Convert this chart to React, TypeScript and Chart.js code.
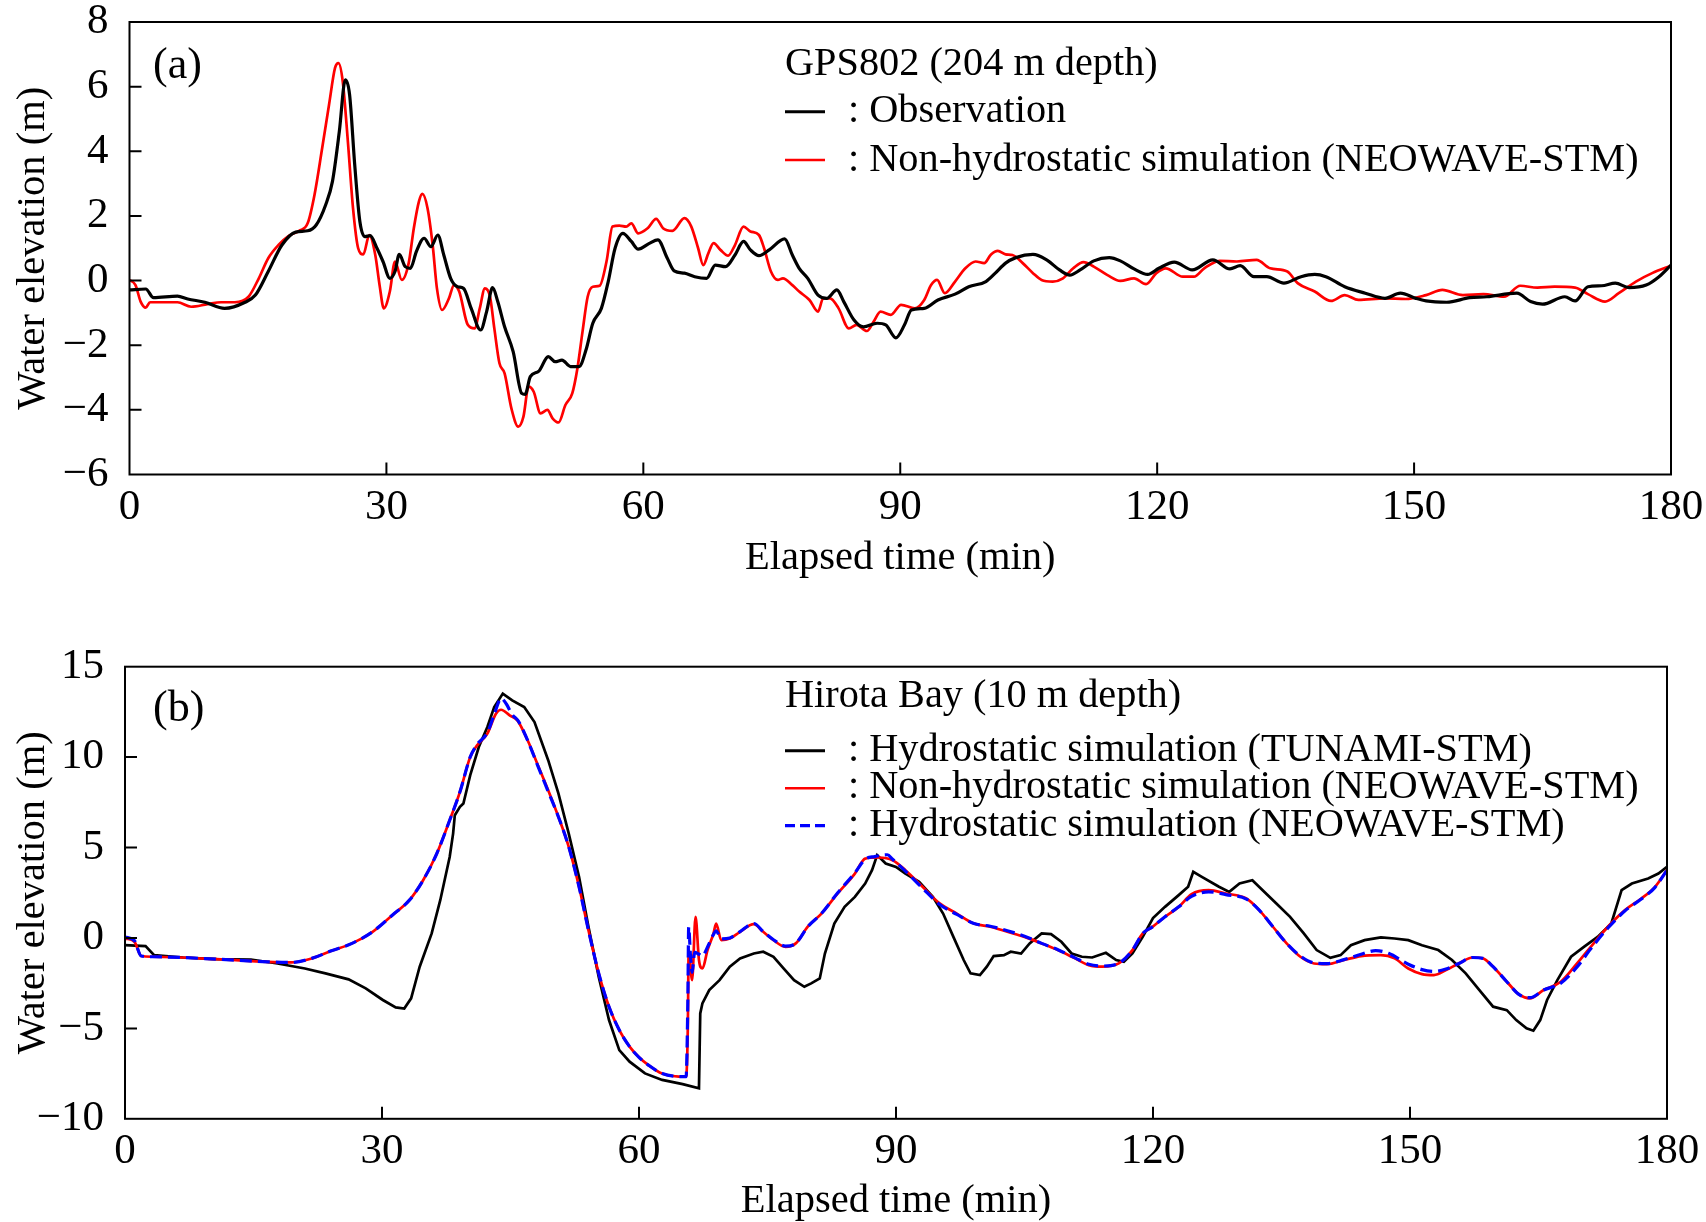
import React, { useEffect, useRef } from 'react';
import { Chart, registerables } from 'chart.js';

Chart.register(...registerables);

const FONT = "'Liberation Serif', 'Times New Roman', Times, serif";
const PAGE_W = 1706;

// ---------------- Panel (a): GPS802 ----------------
const aObservation: [number, number][] = [
  [0, -0.29], [1.9, -0.26], [2.8, -0.53], [5.6, -0.48], [6.8, -0.57], [8.8, -0.67], [11.1, -0.86], [13.5, -0.67],
  [14.7, -0.45], [16.2, 0.28], [17.8, 1.1], [19.4, 1.5], [20.8, 1.54], [21.8, 1.72], [22.9, 2.34], [23.7, 3.07],
  [24.5, 4.61], [25.2, 6.21], [25.7, 5.75], [26.3, 3.58], [26.9, 1.83], [27.5, 1.36], [28.1, 1.39], [28.9, 1.0],
  [29.6, 0.59], [30.4, 0.07], [31.0, 0.28], [31.5, 0.81], [32.2, 0.43], [32.8, 0.38], [33.5, 0.9], [34.4, 1.31],
  [35.2, 1.05], [36.0, 1.41], [36.7, 0.79], [37.5, 0.07], [38.3, -0.19], [39.0, -0.24], [39.9, -0.86], [41.0, -1.53],
  [41.7, -0.96], [42.4, -0.22], [43.0, -0.65], [43.8, -1.43], [44.8, -2.2], [45.8, -3.49], [46.2, -3.52], [46.8, -2.97],
  [47.8, -2.8], [48.9, -2.35], [49.7, -2.51], [50.5, -2.46], [51.5, -2.66], [52.5, -2.66], [53.3, -2.15], [54.1, -1.32],
  [55.1, -0.86], [55.9, -0.03], [56.7, 1.0], [57.6, 1.46], [58.6, 1.21], [59.4, 0.97], [60.7, 1.15], [61.7, 1.26],
  [62.8, 0.69], [63.6, 0.3], [64.8, 0.23], [66.0, 0.12], [67.4, 0.07], [68.4, 0.48], [69.6, 0.43], [70.7, 0.79],
  [71.7, 1.21], [72.5, 0.95], [73.5, 0.77], [74.7, 0.95], [76.5, 1.29], [77.4, 0.79], [78.2, 0.38], [79.2, 0.07],
  [80.4, -0.45], [81.4, -0.55], [82.6, -0.29], [83.4, -0.65], [84.6, -1.22], [85.7, -1.43], [87.3, -1.32], [88.3, -1.37],
  [89.5, -1.77], [90.5, -1.37], [91.3, -0.91], [92.8, -0.86], [94.4, -0.6], [96.4, -0.42], [98.0, -0.19], [100.0, -0.03],
  [101.1, 0.23], [102.3, 0.54], [103.5, 0.71], [105.5, 0.81], [107.1, 0.64], [108.6, 0.33], [109.8, 0.17], [111.0, 0.33],
  [112.6, 0.61], [114.4, 0.71], [115.7, 0.61], [117.3, 0.36], [118.9, 0.19], [120.2, 0.38], [122.0, 0.57], [124.1, 0.33],
  [126.5, 0.64], [128.5, 0.36], [129.7, 0.46], [131.3, 0.12], [132.8, 0.12], [134.8, -0.08], [136.8, 0.12], [138.4, 0.19],
  [139.7, 0.12], [141.9, -0.19], [144.3, -0.39], [146.6, -0.55], [148.4, -0.39], [150.2, -0.55], [151.4, -0.63], [153.8, -0.67],
  [156.5, -0.53], [158.5, -0.5], [162.0, -0.39], [163.6, -0.65], [165.0, -0.73], [167.6, -0.5], [168.8, -0.63], [170.3, -0.19],
  [171.9, -0.16], [173.5, -0.08], [175.1, -0.22], [177.1, -0.14], [178.6, 0.12], [180, 0.48],
];

const aNonHydroNeowave: [number, number][] = [
  [0, 0.02], [0.7, -0.14], [1.3, -0.65], [1.9, -0.84], [2.4, -0.67], [5.6, -0.67], [7.2, -0.81], [9.1, -0.73],
  [10.7, -0.67], [12.3, -0.67], [13.9, -0.5], [15.1, 0.07], [16.2, 0.69], [17.4, 1.1], [18.6, 1.38], [19.8, 1.54],
  [20.8, 1.77], [21.6, 2.65], [22.5, 4.1], [23.3, 5.44], [24.0, 6.58], [24.4, 6.73], [24.9, 6.16], [25.5, 4.3],
  [26.1, 2.24], [26.7, 1.0], [27.3, 0.81], [28.0, 1.41], [28.7, 0.79], [29.2, -0.14], [29.7, -0.86], [30.4, -0.34],
  [31.0, 0.59], [31.8, 0.02], [32.6, 0.54], [33.2, 1.62], [33.8, 2.45], [34.2, 2.68], [34.8, 2.24], [35.4, 1.1],
  [35.9, -0.24], [36.5, -0.91], [37.3, -0.55], [37.9, -0.14], [38.5, -0.34], [39.5, -1.37], [40.3, -1.48], [40.9, -0.86],
  [41.5, -0.24], [42.1, -0.5], [42.6, -1.48], [43.2, -2.56], [43.8, -2.87], [44.6, -3.96], [45.4, -4.52], [46.0, -4.21],
  [46.6, -3.28], [47.2, -3.44], [48.0, -4.11], [48.8, -4.0], [49.4, -4.26], [50.1, -4.39], [50.9, -3.85], [51.7, -3.49],
  [52.3, -2.72], [52.9, -1.58], [53.5, -0.5], [54.1, -0.19], [54.9, -0.16], [55.7, 0.59], [56.4, 1.67], [57.2, 1.7],
  [58.0, 1.67], [58.6, 1.77], [59.4, 1.46], [60.5, 1.62], [61.5, 1.91], [62.3, 1.62], [63.4, 1.54], [64.8, 1.93],
  [65.6, 1.67], [66.4, 1.0], [67.0, 0.48], [67.6, 0.85], [68.2, 1.16], [69.0, 0.95], [69.9, 0.77], [70.7, 1.1],
  [71.7, 1.67], [72.5, 1.52], [73.5, 1.41], [74.1, 1.0], [74.9, 0.28], [75.7, 0.02], [76.3, 0.07], [77.4, -0.14],
  [78.2, -0.34], [79.4, -0.6], [80.4, -0.96], [81.0, -0.55], [81.8, -0.55], [82.8, -0.86], [84.0, -1.48], [84.9, -1.37],
  [86.1, -1.56], [86.9, -1.27], [87.7, -0.96], [88.9, -1.06], [90.1, -0.75], [91.7, -0.86], [92.8, -0.6], [93.6, -0.14],
  [94.3, 0.02], [95.2, -0.39], [96.4, -0.03], [97.6, 0.38], [98.8, 0.59], [99.8, 0.54], [100.6, 0.81], [101.4, 0.92],
  [102.3, 0.81], [103.1, 0.79], [104.3, 0.54], [105.5, 0.23], [106.5, 0.02], [107.8, -0.03], [109.0, 0.07], [110.2, 0.38],
  [111.4, 0.57], [112.6, 0.43], [114.2, 0.17], [115.7, -0.01], [117.3, 0.07], [118.7, -0.11], [119.9, 0.23], [121.0, 0.38],
  [123.0, 0.12], [124.3, 0.12], [125.5, 0.38], [127.3, 0.61], [129.3, 0.59], [131.6, 0.64], [133.2, 0.38], [135.2, 0.28],
  [136.4, -0.08], [138.4, -0.34], [140.3, -0.63], [141.9, -0.45], [143.5, -0.6], [146.6, -0.55], [149.0, -0.57], [151.4, -0.45],
  [153.3, -0.29], [155.7, -0.45], [158.1, -0.42], [160.5, -0.5], [162.4, -0.16], [164.4, -0.22], [166.4, -0.19], [168.8, -0.22],
  [170.3, -0.42], [172.3, -0.65], [173.9, -0.39], [175.9, -0.03], [177.8, 0.23], [180, 0.46],
];

// ---------------- Panel (b): Hirota Bay ----------------
const bHydroTunami: [number, number][] = [
  [0, -0.4], [2.4, -0.45], [3.4, -0.95], [6.8, -1.08], [10.7, -1.17], [14.7, -1.19], [17.8, -1.41], [21.0, -1.69],
  [23.4, -1.96], [26.1, -2.29], [28.1, -2.79], [30.1, -3.43], [31.6, -3.84], [32.6, -3.9], [33.4, -3.34], [34.4, -1.59],
  [35.8, 0.25], [36.8, 2.09], [37.9, 4.48], [38.3, 5.77], [38.5, 6.79], [39.1, 7.25], [39.5, 7.43], [40.3, 9.0],
  [41.3, 10.56], [42.3, 11.67], [43.1, 12.77], [44.1, 13.51], [45.2, 13.14], [46.6, 12.77], [47.8, 11.94], [49.4, 9.83],
  [50.6, 7.98], [51.8, 5.77], [53.0, 3.38], [54.1, 0.62], [55.3, -2.15], [56.5, -4.54], [57.7, -6.2], [58.9, -6.84],
  [60.7, -7.49], [62.7, -7.85], [65.1, -8.08], [67.0, -8.31], [67.15, -4.17], [67.4, -3.62], [68.2, -2.88], [69.4, -2.33],
  [70.6, -1.59], [71.8, -1.13], [73.4, -0.86], [74.5, -0.76], [75.7, -1.04], [76.9, -1.69], [78.1, -2.33], [79.3, -2.7],
  [80.1, -2.51], [81.1, -2.24], [81.7, -0.86], [82.8, 0.8], [84.0, 1.72], [85.2, 2.27], [86.4, 3.01], [87.2, 3.75],
  [87.8, 4.58], [88.8, 4.12], [90.0, 3.93], [91.1, 3.56], [92.7, 3.1], [94.3, 2.27], [95.5, 1.35], [96.7, 0.06],
  [97.9, -1.22], [98.7, -1.96], [99.8, -2.05], [100.6, -1.59], [101.4, -1.0], [102.6, -0.95], [103.4, -0.76], [104.6, -0.86],
  [105.6, -0.3], [107.0, 0.25], [108.1, 0.21], [109.3, -0.21], [110.5, -0.86], [111.7, -1.04], [112.9, -1.08], [114.5, -0.82],
  [115.7, -1.22], [116.6, -1.32], [117.6, -0.86], [118.8, 0.06], [120.0, 1.1], [121.4, 1.72], [123.0, 2.37], [124.1, 2.83],
  [124.7, 3.66], [125.7, 3.38], [127.7, 2.83], [128.9, 2.55], [130.1, 3.01], [131.6, 3.19], [132.8, 2.64], [134.4, 1.91],
  [136.0, 1.17], [137.6, 0.25], [139.1, -0.67], [140.7, -1.1], [141.9, -0.95], [143.1, -0.4], [144.7, -0.12], [146.6, 0.03],
  [148.2, -0.03], [149.8, -0.12], [151.4, -0.4], [153.3, -0.67], [154.9, -1.22], [156.5, -1.96], [158.1, -2.88], [159.7, -3.8],
  [161.3, -3.99], [162.4, -4.54], [163.6, -5.0], [164.4, -5.13], [165.2, -4.54], [166.0, -3.43], [167.2, -2.33], [168.8, -1.04],
  [170.3, -0.49], [171.9, 0.06], [173.5, 0.8], [174.7, 2.64], [175.9, 3.01], [177.8, 3.29], [179.0, 3.56], [180, 3.93],
];

const bNonHydroNeowave: [number, number][] = [
  [0, -0.03], [1.1, -0.21], [1.9, -1.0], [3.2, -1.04], [10.7, -1.17], [16.6, -1.32], [19.4, -1.35], [21.8, -1.13],
  [24.1, -0.71], [26.5, -0.3], [28.9, 0.34], [31.2, 1.26], [33.2, 2.09], [34.8, 3.19], [36.4, 4.67], [37.9, 6.51],
  [39.1, 8.08], [40.3, 10.01], [41.1, 10.65], [42.3, 11.3], [43.3, 12.4], [43.9, 12.62], [44.9, 12.31], [45.8, 12.03],
  [47.0, 10.93], [48.2, 9.55], [49.4, 8.17], [50.6, 6.69], [51.8, 5.04], [53.0, 2.83], [54.1, 0.43], [55.3, -1.96],
  [56.5, -3.8], [57.7, -5.09], [58.9, -6.01], [60.0, -6.6], [61.1, -7.03], [62.7, -7.49], [65.5, -7.67], [65.7, -4.9],
  [65.8, -0.67], [66.2, -2.33], [66.6, 1.17], [67.0, -1.22], [67.4, -1.69], [68.0, -0.67], [68.7, 0.25], [69.0, 0.8],
  [69.6, -0.12], [70.6, -0.03], [71.8, 0.34], [73.4, 0.76], [74.5, 0.34], [75.7, -0.12], [77.1, -0.49], [78.3, -0.3],
  [79.7, 0.62], [81.3, 1.35], [83.2, 2.46], [85.2, 3.56], [86.4, 4.39], [88.0, 4.45], [89.6, 4.3], [91.1, 3.75],
  [93.1, 2.83], [95.1, 1.91], [97.1, 1.35], [99.1, 0.8], [101.0, 0.62], [103.0, 0.34], [105.0, 0.06], [107.0, -0.3],
  [108.9, -0.67], [110.9, -1.13], [112.5, -1.5], [114.1, -1.59], [116.0, -1.41], [117.6, -0.67], [118.8, 0.25], [119.9, 0.6],
  [121.4, 1.17], [123.0, 1.72], [124.5, 2.42], [126.5, 2.64], [128.5, 2.46], [130.9, 2.18], [132.4, 1.54], [134.0, 0.62],
  [135.6, -0.3], [137.2, -1.04], [138.8, -1.41], [140.3, -1.45], [142.3, -1.22], [144.3, -1.0], [146.6, -0.95], [148.2, -1.13],
  [149.8, -1.69], [151.4, -2.0], [152.8, -2.05], [154.2, -1.78], [155.7, -1.41], [157.3, -1.08], [158.5, -1.13], [159.7, -1.59],
  [161.3, -2.42], [162.8, -3.15], [164.0, -3.34], [165.6, -2.88], [167.6, -2.42], [169.5, -1.41], [171.1, -0.49], [173.1, 0.62],
  [175.1, 1.54], [177.0, 2.18], [178.6, 2.83], [180, 3.75],
];

const bHydroNeowave: [number, number][] = [
  [0, 0.05], [1.1, -0.15], [1.9, -1.0], [3.2, -1.04], [10.7, -1.17], [16.6, -1.32], [19.4, -1.35], [21.8, -1.13],
  [24.1, -0.71], [26.5, -0.3], [28.9, 0.34], [31.2, 1.26], [33.2, 2.09], [34.8, 3.19], [36.4, 4.67], [37.9, 6.51],
  [39.1, 8.08], [40.3, 10.01], [41.1, 10.7], [42.3, 11.35], [43.2, 12.5], [43.9, 13.25], [44.5, 12.95], [45.2, 12.35],
  [45.9, 12.0], [47.0, 10.93], [48.2, 9.5], [49.4, 8.1], [50.6, 6.69], [51.8, 5.04], [53.0, 2.83], [54.1, 0.43],
  [55.3, -1.96], [56.5, -3.8], [57.7, -5.09], [58.9, -6.01], [60.0, -6.6], [61.1, -7.03], [62.7, -7.49], [65.5, -7.67],
  [65.7, -3.5], [65.8, 0.6], [66.0, -0.9], [66.2, -1.9], [66.5, -0.8], [67.0, -0.9], [67.4, -1.0], [68.0, -0.5],
  [68.7, 0.2], [69.0, 0.4], [69.6, -0.05], [70.6, 0.0], [71.8, 0.35], [73.4, 0.8], [74.5, 0.35], [75.7, -0.1],
  [77.1, -0.45], [78.3, -0.3], [79.7, 0.62], [81.3, 1.35], [83.2, 2.5], [85.2, 3.6], [86.4, 4.35], [87.5, 4.5],
  [89.0, 4.6], [89.6, 4.35], [91.1, 3.7], [93.1, 2.75], [95.1, 1.85], [97.1, 1.3], [99.1, 0.8], [101.0, 0.65],
  [103.0, 0.4], [105.0, 0.1], [107.0, -0.3], [108.9, -0.65], [110.9, -1.1], [112.5, -1.45], [114.1, -1.55], [116.0, -1.4],
  [117.6, -0.67], [118.8, 0.25], [119.9, 0.6], [121.4, 1.17], [123.0, 1.72], [124.5, 2.3], [126.5, 2.55], [128.5, 2.4],
  [130.9, 2.15], [132.4, 1.54], [134.0, 0.62], [135.6, -0.3], [137.2, -1.0], [138.8, -1.38], [140.3, -1.42], [142.3, -1.2],
  [144.3, -0.9], [146.0, -0.7], [147.5, -0.85], [149.8, -1.45], [151.4, -1.75], [152.8, -1.85], [154.2, -1.72], [155.7, -1.41],
  [157.3, -1.08], [158.5, -1.13], [159.7, -1.59], [161.3, -2.42], [162.8, -3.15], [164.0, -3.3], [165.6, -2.88], [167.6, -2.5],
  [169.5, -1.6], [171.1, -0.6], [173.1, 0.55], [175.1, 1.5], [177.0, 2.15], [178.6, 2.8], [180, 3.75],
];

// ---------------- Axes & text ----------------
const xRange = [0, 180];
const xStep = 30;
const aYRange = [-6, 8];
const aYStep = 2;
const bYRange = [-10, 15];
const bYStep = 5;

const xTitle = 'Elapsed time (min)';
const yTitle = 'Water elevation (m)';

const aPanelLabel = '(a)';
const aLegendTitle = 'GPS802 (204 m depth)';
const aLegendLabels = [': Observation', ': Non-hydrostatic simulation (NEOWAVE-STM)'];

const bPanelLabel = '(b)';
const bLegendTitle = 'Hirota Bay (10 m depth)';
const bLegendLabels = [
  ': Hydrostatic simulation (TUNAMI-STM)',
  ': Non-hydrostatic simulation (NEOWAVE-STM)',
  ': Hydrostatic simulation (NEOWAVE-STM)',
];

type SeriesDef = {
  data: [number, number][];
  color: string;
  width: number;
  dash?: number[];
  smooth: boolean;
  label: string;
};

type PanelProps = {
  top: number;
  height: number;
  box: { left: number; right: number; top: number; bottom: number };
  yRange: number[];
  yStep: number;
  series: SeriesDef[]; // index 0 drawn on top
  panelLabel: string;
  panelLabelPos: [number, number];
  legendTitle: string;
  legendTitlePos: [number, number];
  legendEntries: { text: string; color: string; width: number; dash?: number[]; lineY: number; baseY: number }[];
  xTitlePadBottom: number;
};

const fmtTick = (v: number | string) => {
  const n = Number(v);
  return n < 0 ? '\u2212' + Math.abs(n) : String(n);
};

function Panel(props: PanelProps) {
  const ref = useRef<HTMLCanvasElement | null>(null);

  useEffect(() => {
    const canvas = ref.current;
    if (!canvas) return;
    const { top, height, box } = props;
    const tickFont = { family: FONT, size: 43 };
    const titleFont = { family: FONT, size: 40.5 };

    const decor = {
      id: 'decor' + props.panelLabel,
      afterDatasetsDraw(chart: any) {
        const { ctx, chartArea: a, scales } = chart;
        ctx.save();
        ctx.strokeStyle = '#000';
        ctx.lineWidth = 2;
        ctx.setLineDash([]);
        ctx.strokeRect(a.left, a.top, a.right - a.left, a.bottom - a.top);
        ctx.beginPath();
        const ys = scales.y;
        for (const t of ys.ticks) {
          if (t.value <= ys.min || t.value >= ys.max) continue;
          const y = ys.getPixelForValue(t.value);
          ctx.moveTo(a.left, y);
          ctx.lineTo(a.left + 12, y);
        }
        const xs = scales.x;
        for (const t of xs.ticks) {
          if (t.value <= xs.min || t.value >= xs.max) continue;
          const x = xs.getPixelForValue(t.value);
          ctx.moveTo(x, a.bottom);
          ctx.lineTo(x, a.bottom - 12);
        }
        ctx.stroke();
        ctx.restore();
      },
      afterDraw(chart: any) {
        const { ctx } = chart;
        ctx.save();
        ctx.fillStyle = '#000';
        ctx.textBaseline = 'alphabetic';
        ctx.textAlign = 'left';
        ctx.font = `44px ${FONT}`;
        ctx.fillText(props.panelLabel, props.panelLabelPos[0], props.panelLabelPos[1] - top);
        ctx.font = `40.3px ${FONT}`;
        ctx.fillText(props.legendTitle, props.legendTitlePos[0], props.legendTitlePos[1] - top);
        for (const e of props.legendEntries) {
          ctx.beginPath();
          ctx.strokeStyle = e.color;
          ctx.lineWidth = e.width;
          ctx.setLineDash(e.dash ?? []);
          ctx.moveTo(785, e.lineY - top);
          ctx.lineTo(825, e.lineY - top);
          ctx.stroke();
          ctx.setLineDash([]);
          ctx.fillText(e.text, 848, e.baseY - top);
        }
        ctx.restore();
      },
    };

    const chart = new Chart(canvas, {
      type: 'line',
      data: {
        datasets: props.series.map((s) => ({
          label: s.label,
          data: s.data.map(([x, y]) => ({ x, y })),
          borderColor: s.color,
          backgroundColor: s.color,
          borderWidth: s.width,
          borderDash: s.dash ?? [],
          pointRadius: 0,
          pointHoverRadius: 0,
          fill: false,
          tension: s.smooth ? 0.4 : 0,
          cubicInterpolationMode: s.smooth ? 'monotone' : 'default',
        })),
      },
      options: {
        responsive: false,
        animation: false,
        devicePixelRatio: 1,
        events: [],
        layout: { padding: { left: 0, top: box.top - top, right: PAGE_W - box.right, bottom: 0 } },
        plugins: { legend: { display: false }, tooltip: { enabled: false }, title: { display: false } },
        scales: {
          x: {
            type: 'linear',
            min: xRange[0],
            max: xRange[1],
            grid: { display: false, drawTicks: false },
            border: { display: false },
            ticks: { stepSize: xStep, padding: 7, font: tickFont, color: '#000', maxRotation: 0, autoSkip: false, callback: fmtTick },
            title: { display: true, text: xTitle, font: titleFont, color: '#000', padding: { top: 0, bottom: props.xTitlePadBottom } },
            afterFit: (s: any) => {
              s.height = top + height - box.bottom;
              s.paddingLeft = 0;
              s.paddingRight = 0;
            },
          },
          y: {
            type: 'linear',
            min: props.yRange[0],
            max: props.yRange[1],
            grid: { display: false, drawTicks: false },
            border: { display: false },
            ticks: { stepSize: props.yStep, padding: 21, font: tickFont, color: '#000', autoSkip: false, callback: fmtTick },
            title: { display: true, text: yTitle, font: titleFont, color: '#000', padding: { top: 9.5, bottom: 0 } },
            afterFit: (s: any) => {
              s.width = box.left;
              s.paddingTop = 0;
              s.paddingBottom = 0;
            },
          },
        },
      } as any,
      plugins: [decor],
    });
    return () => chart.destroy();
  }, []);

  return (
    <canvas
      ref={ref}
      width={PAGE_W}
      height={props.height}
      style={{ position: 'absolute', left: 0, top: props.top, width: PAGE_W, height: props.height }}
    />
  );
}

export default function App() {
  return (
    <div style={{ position: 'absolute', left: 0, top: 0, width: PAGE_W, height: 1222, background: '#fff', overflow: 'hidden' }}>
      <Panel
        top={0}
        height={600}
        box={{ left: 129.5, right: 1671, top: 22, bottom: 474.5 }}
        yRange={aYRange}
        yStep={aYStep}
        series={[
          { data: aObservation, color: '#000000', width: 3.2, smooth: true, label: 'Observation' },
          { data: aNonHydroNeowave, color: '#ff0000', width: 2.7, smooth: true, label: 'Non-hydrostatic (NEOWAVE-STM)' },
        ]}
        panelLabel={aPanelLabel}
        panelLabelPos={[153, 78]}
        legendTitle={aLegendTitle}
        legendTitlePos={[785, 74.5]}
        legendEntries={[
          { text: aLegendLabels[0], color: '#000000', width: 3, lineY: 111.7, baseY: 121.5 },
          { text: aLegendLabels[1], color: '#ff0000', width: 2.6, lineY: 160, baseY: 170.5 },
        ]}
        xTitlePadBottom={17}
      />
      <Panel
        top={600}
        height={622}
        box={{ left: 125, right: 1667, top: 666.7, bottom: 1118.8 }}
        yRange={bYRange}
        yStep={bYStep}
        series={[
          { data: bHydroNeowave, color: '#0000ff', width: 3.2, dash: [12, 6], smooth: true, label: 'Hydrostatic (NEOWAVE-STM)' },
          { data: bNonHydroNeowave, color: '#ff0000', width: 2.7, smooth: true, label: 'Non-hydrostatic (NEOWAVE-STM)' },
          { data: bHydroTunami, color: '#000000', width: 2.7, smooth: false, label: 'Hydrostatic (TUNAMI-STM)' },
        ]}
        panelLabel={bPanelLabel}
        panelLabelPos={[153, 720.5]}
        legendTitle={bLegendTitle}
        legendTitlePos={[785, 707]}
        legendEntries={[
          { text: bLegendLabels[0], color: '#000000', width: 3, lineY: 750.7, baseY: 760.5 },
          { text: bLegendLabels[1], color: '#ff0000', width: 2.6, lineY: 788.3, baseY: 798 },
          { text: bLegendLabels[2], color: '#0000ff', width: 3.2, dash: [10, 5], lineY: 825.7, baseY: 835.5 },
        ]}
        xTitlePadBottom={-4}
      />
    </div>
  );
}
